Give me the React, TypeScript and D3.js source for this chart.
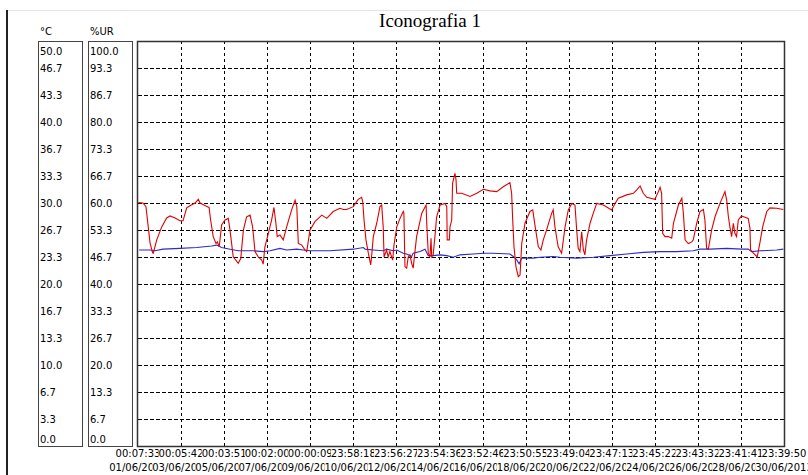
import React from 'react';
import * as d3 from 'd3';

const title = 'Iconografia 1';
const tempUnit = '°C';
const humUnit = '%UR';
const tempTicks = ['0.0','3.3','6.7','10.0','13.3','16.7','20.0','23.3','26.7','30.0','33.3','36.7','40.0','43.3','46.7','50.0'];
const humTicks = ['0.0','6.7','13.3','20.0','26.7','33.3','40.0','46.7','53.3','60.0','66.7','73.3','80.0','86.7','93.3','100.0'];
const tickTimes = ['00:07:33','00:05:42','00:03:51','00:02:00','00:00:09','23:58:18','23:56:27','23:54:36','23:52:46','23:50:55','23:49:04','23:47:13','23:45:22','23:43:32','23:41:41','23:39:50'];
const tickDates = ['01/06/2013','03/06/2013','05/06/2013','07/06/2013','09/06/2013','10/06/2013','12/06/2013','14/06/2013','16/06/2013','18/06/2013','20/06/2013','22/06/2013','24/06/2013','26/06/2013','28/06/2013','30/06/2013'];

// relative humidity (%UR), days since first sample
const humDays = [0.02,0.23,0.37,0.56,0.68,0.71,0.87,1.10,1.33,1.49,1.72,1.95,2.09,2.26,2.41,2.65,2.80,2.88,3.06,3.22,3.30,3.37,3.49,3.62,3.68,3.77,3.88,4.04,4.19,4.27,4.42,4.65,4.77,4.89,5.04,5.20,5.32,5.43,5.58,5.74,5.81,5.89,6.05,6.20,6.31,6.40,6.46,6.59,6.74,6.90,7.13,7.29,7.37,7.44,7.60,7.75,7.83,7.98,8.21,8.53,8.76,9.06,9.37,9.53,9.68,9.99,10.22,10.38,10.43,10.49,10.58,10.69,10.80,10.84,10.92,11.08,11.23,11.31,11.38,11.42,11.54,11.61,11.69,11.82,11.88,12.01,12.16,12.31,12.34,12.39,12.47,12.54,12.62,12.70,12.77,12.81,12.93,13.17,13.37,13.40,13.47,13.55,13.60,13.63,13.70,13.78,13.86,14.02,14.25,14.33,14.35,14.45,14.48,14.56,14.60,14.71,14.76,14.79,15.02,15.41,15.72,16.03,16.34,16.65,16.95,17.26,17.34,17.39,17.45,17.54,17.65,17.73,17.81,17.96,18.19,18.32,18.42,18.58,18.70,18.81,18.96,19.20,19.27,19.35,19.50,19.58,19.66,19.82,19.97,20.13,20.28,20.36,20.43,20.51,20.59,20.67,20.74,20.82,20.98,21.13,21.29,21.60,21.98,22.14,22.29,22.68,22.99,23.14,23.30,23.45,23.61,23.99,24.15,24.23,24.30,24.35,24.46,24.61,24.77,24.85,25.08,25.24,25.31,25.39,25.54,25.70,25.77,25.93,26.08,26.24,26.31,26.39,26.47,26.62,26.78,27.01,27.24,27.32,27.40,27.47,27.55,27.63,27.70,27.78,27.86,28.01,28.17,28.32,28.40,28.43,28.56,28.74,28.87,28.99,29.18,29.33,29.64,29.95];
const humValues = [60.1,60.0,59.1,50.1,47.7,47.6,50.9,54.1,56.3,56.8,56.3,55.6,55.6,58.8,59.3,60.0,60.9,60.0,59.5,59.1,58.9,55.8,51.7,50.0,50.4,49.2,54.6,55.8,56.2,53.3,46.7,45.1,46.3,53.3,56.6,57.0,54.1,48.0,46.7,45.9,44.9,49.2,52.5,55.8,58.9,55.0,51.7,52.1,50.9,54.1,58.3,60.7,59.1,50.0,49.6,48.4,48.0,53.3,55.4,57.0,56.2,57.9,58.7,58.4,58.4,59.1,60.9,61.4,60.3,55.8,50.9,47.6,44.7,46.7,51.7,55.0,59.1,59.5,54.1,46.7,48.4,46.7,48.0,45.9,49.6,54.1,56.2,57.9,57.5,44.3,43.9,46.7,47.2,45.1,43.9,45.9,51.7,57.5,59.5,55.0,47.6,46.7,51.3,46.7,47.2,51.7,56.6,59.5,59.9,59.1,50.9,50.9,54.1,55.8,64.9,67.3,65.7,62.4,62.4,61.6,62.4,63.4,63.0,62.8,64.0,65.0,62.4,55.8,49.2,44.3,41.8,42.2,50.0,55.0,57.9,58.3,54.6,49.2,48.4,50.9,53.3,57.5,58.3,54.1,49.2,48.4,47.6,54.1,58.3,59.9,59.5,53.3,48.8,48.0,52.9,48.4,47.2,50.9,55.0,57.5,59.9,59.5,58.3,59.9,61.2,62.0,62.4,63.2,64.2,62.4,61.4,60.9,62.8,63.9,62.4,52.5,51.7,51.7,51.3,55.0,59.5,61.2,57.5,50.9,50.0,50.4,50.9,55.0,57.9,58.4,55.8,48.8,48.6,53.3,56.6,59.9,62.8,60.7,56.6,54.1,51.7,55.0,52.5,51.7,55.8,56.8,56.5,56.2,53.8,48.4,47.6,46.7,50.4,54.1,57.9,58.8,58.7,58.4];

// temperature (°C), days since first sample
const tempDays = [0.05,0.56,0.79,1.16,1.95,2.72,3.42,3.65,3.88,4.27,4.65,5.35,5.81,6.13,6.59,6.90,7.37,7.67,7.98,8.91,9.99,10.46,10.54,10.92,11.38,11.54,11.85,12.01,12.31,12.47,12.70,12.77,13.09,13.32,13.47,13.70,14.02,14.33,14.63,14.94,15.56,16.03,16.49,17.26,17.42,17.57,17.69,17.81,18.04,18.35,18.66,19.27,19.58,20.36,21.13,21.91,22.68,23.45,24.23,25.00,25.77,26.08,26.55,27.32,28.01,28.32,28.48,28.87,29.64,29.95];
const tempValues = [24.2,24.2,24.1,24.3,24.4,24.5,24.7,24.8,24.5,24.3,24.1,24.1,24.0,24.1,24.4,24.2,24.3,24.2,24.1,24.1,24.3,24.5,24.3,24.2,24.1,24.3,24.1,24.2,23.8,23.7,23.4,23.8,24.0,24.3,23.5,23.5,23.6,23.5,23.3,23.6,23.7,23.8,23.8,23.7,23.4,23.0,22.5,23.2,23.2,23.2,23.3,23.4,23.3,23.2,23.3,23.5,23.7,23.9,24.0,24.0,24.1,24.3,24.3,24.4,24.3,24.3,24.0,24.1,24.2,24.3];

const W = 808, H = 475;
const PL = 138, PR = 784, PT = 41, PB = 446;
const FONT = '"DejaVu Sans", Verdana, sans-serif';

function parseStamp(date: string, time: string): Date {
  const [dd, mm, yy] = date.split('/').map(Number);
  const [h, m, s] = time.split(':').map(Number);
  return new Date(yy, mm - 1, dd, h, m, s);
}

// approximate advance widths of DejaVu Sans at 10px
function textWidth(s: string): number {
  let w = 0;
  for (const c of s) w += /[0-9]/.test(c) ? 6.36 : 3.37;
  return w;
}

export default function App() {
  const tickStamps = tickDates.map((d, i) => parseStamp(d, tickTimes[i]));
  const start = tickStamps[0];
  const end = tickStamps[tickStamps.length - 1];
  const x = d3.scaleTime().domain([start, end]).range([PL, PR]);
  const yT = d3.scaleLinear().domain([0, 50]).range([PB, PT]);
  const yH = d3.scaleLinear().domain([0, 100]).range([PB, PT]);
  const toDate = (d: number) => new Date(start.getTime() + d * 86400000);

  const humPts = humDays.map((d, i) => [toDate(d), humValues[i]] as [Date, number]);
  const tempPts = tempDays.map((d, i) => [toDate(d), tempValues[i]] as [Date, number]);
  const humLine = d3.line<[Date, number]>().x(p => x(p[0])).y(p => yH(p[1]));
  const tempLine = d3.line<[Date, number]>().x(p => x(p[0])).y(p => yT(p[1]));

  const nY = tempTicks.length - 1;
  const tickY = tempTicks.map((_, i) => yT((i / nY) * 50));
  const crisp = (v: number) => Math.round(v) + 0.5;
  const clampLabel = (v: number) => Math.max(PT + 10, Math.min(PB - 7, v));

  return (
    <svg width={W} height={H} style={{ position: 'absolute', left: 0, top: 0, background: '#fff' }}>
      {/* outer frame */}
      <line x1={7} x2={W} y1={10.5} y2={10.5} stroke="#e4e4e4" strokeWidth={1} />
      <line x1={7} x2={7} y1={10} y2={H} stroke="#222" strokeWidth={2} />

      <text x={430} y={27} textAnchor="middle" fontFamily='"Liberation Serif", "Times New Roman", serif' fontSize={19} fill="#000">{title}</text>

      {/* axis headers */}
      <text x={40} y={35} fontFamily={FONT} fontSize={10} fill="#000">{tempUnit}</text>
      <text x={90} y={35} fontFamily={FONT} fontSize={10} fill="#000">{humUnit}</text>

      {/* axis boxes */}
      <rect x={38.5} y={PT + 0.5} width={44} height={PB - PT} fill="none" stroke="#444" strokeWidth={1} />
      <rect x={88.5} y={PT + 0.5} width={44} height={PB - PT} fill="none" stroke="#444" strokeWidth={1} />

      {tempTicks.map((t, i) => (
        <text key={'t' + i} x={40} y={clampLabel(tickY[i])} dy="0.36em" fontFamily={FONT} fontSize={10} fill="#000">{t}</text>
      ))}
      {humTicks.map((t, i) => (
        <text key={'h' + i} x={90} y={clampLabel(tickY[i])} dy="0.36em" fontFamily={FONT} fontSize={10} fill="#000">{t}</text>
      ))}

      {/* grid */}
      <g shapeRendering="crispEdges">
        {tickY.slice(1, -1).map((y, i) => (
          <line key={'gy' + i} x1={PL} x2={PR} y1={crisp(y)} y2={crisp(y)} stroke="#000" strokeWidth={1} strokeDasharray="4 2" />
        ))}
        {tickStamps.slice(1, -1).map((d, i) => (
          <line key={'gx' + i} x1={crisp(x(d))} x2={crisp(x(d))} y1={PT} y2={PB} stroke="#000" strokeWidth={1} strokeDasharray="3 3" />
        ))}
      </g>

      {/* series */}
      <path d={tempLine(tempPts) || ''} fill="none" stroke="#2b2bcc" strokeWidth={1.1} />
      <path d={humLine(humPts) || ''} fill="none" stroke="#e00000" strokeWidth={1.1} />

      {/* plot frame */}
      <rect x={PL - 0.5} y={PT + 0.5} width={PR - PL + 1} height={PB - PT} fill="none" stroke="#333" strokeWidth={1.5} />

      {/* x tick labels: drawn in order on an opaque background, each covering the tail of the previous one */}
      {tickStamps.map((d, i) => {
        const cx = x(d);
        const wt = textWidth(tickTimes[i]);
        const wd = textWidth(tickDates[i]);
        return (
          <g key={'xl' + i}>
            <rect x={cx - wt / 2} y={448} width={wt} height={12} fill="#fff" />
            <text x={cx} y={456.5} textAnchor="middle" fontFamily={FONT} fontSize={10} fill="#000">{tickTimes[i]}</text>
            <rect x={cx - wd / 2} y={461} width={wd} height={14} fill="#fff" />
            <text x={cx} y={470.5} textAnchor="middle" fontFamily={FONT} fontSize={10} fill="#000">{tickDates[i]}</text>
          </g>
        );
      })}
    </svg>
  );
}
